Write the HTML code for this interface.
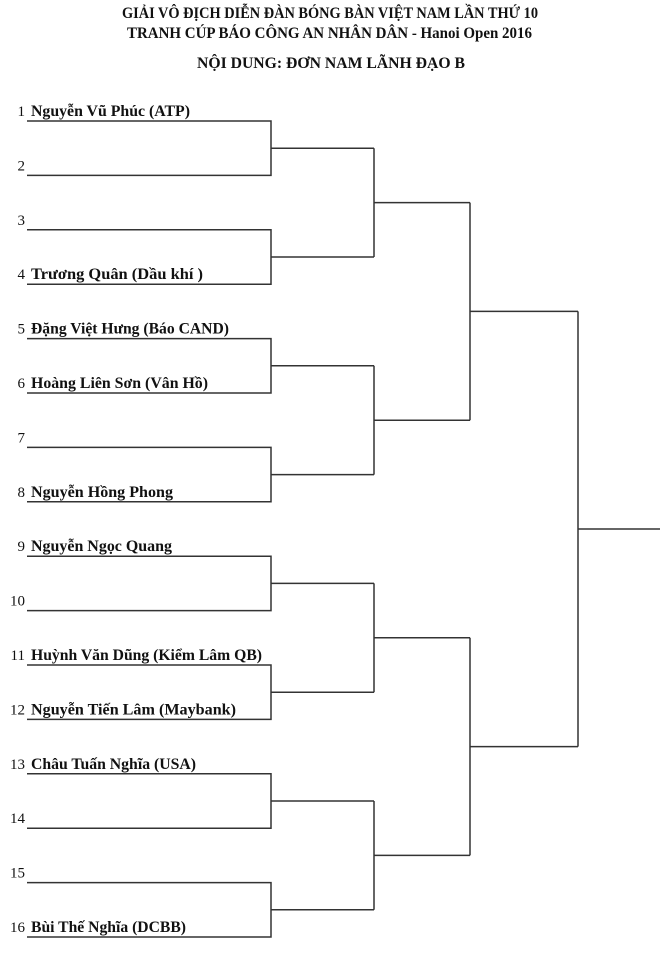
<!DOCTYPE html>
<html><head><meta charset="utf-8"><style>
html,body{margin:0;padding:0;background:#fff;}
svg{display:block;}
text{font-family:"Liberation Serif","DejaVu Serif",serif;fill:#111;}
.n{font-size:15px;}
.b{font-size:16px;font-weight:bold;}
.t{font-size:16px;font-weight:bold;}
</style></head><body>
<svg width="660" height="963" viewBox="0 0 660 963" xmlns="http://www.w3.org/2000/svg">
<text class="t" x="122" y="18" textLength="416" lengthAdjust="spacingAndGlyphs">GIẢI VÔ ĐỊCH DIỄN ĐÀN BÓNG BÀN VIỆT NAM LẦN THỨ 10</text>
<text class="t" x="127" y="38" textLength="405" lengthAdjust="spacingAndGlyphs">TRANH CÚP BÁO CÔNG AN NHÂN DÂN - Hanoi Open 2016</text>
<text class="t" x="197" y="68" textLength="268" lengthAdjust="spacingAndGlyphs">NỘI DUNG: ĐƠN NAM LÃNH ĐẠO B</text>

<g fill="none" stroke="#333" stroke-width="1.5">
<path d="M27 121H271V175.4H27 M271 148.2H374"/>
<path d="M27 229.8H271V284.2H27 M271 257H374"/>
<path d="M27 338.6H271V393H27 M271 365.8H374"/>
<path d="M27 447.4H271V501.8H27 M271 474.6H374"/>
<path d="M27 556.2H271V610.6H27 M271 583.4H374"/>
<path d="M27 665H271V719.4H27 M271 692.2H374"/>
<path d="M27 773.8H271V828.2H27 M271 801H374"/>
<path d="M27 882.6H271V937H27 M271 909.8H374"/>
<path d="M374 148.2V257 M374 202.6H470"/>
<path d="M374 365.8V474.6 M374 420.2H470"/>
<path d="M374 583.4V692.2 M374 637.8H470"/>
<path d="M374 801V909.8 M374 855.4H470"/>
<path d="M470 202.6V420.2 M470 311.4H578"/>
<path d="M470 637.8V855.4 M470 746.6H578"/>
<path d="M578 311.4V746.6 M578 529H660"/>
</g>

<g class="n" text-anchor="end">
<text x="25" y="116">1</text>
<text x="25" y="170.4">2</text>
<text x="25" y="224.8">3</text>
<text x="25" y="279.2">4</text>
<text x="25" y="333.6">5</text>
<text x="25" y="388">6</text>
<text x="25" y="442.4">7</text>
<text x="25" y="496.8">8</text>
<text x="25" y="551.2">9</text>
<text x="25" y="605.6">10</text>
<text x="25" y="660">11</text>
<text x="25" y="714.4">12</text>
<text x="25" y="768.8">13</text>
<text x="25" y="823.2">14</text>
<text x="25" y="877.6">15</text>
<text x="25" y="932">16</text>
</g>

<g class="b">
<text x="31" y="116" textLength="159" lengthAdjust="spacingAndGlyphs">Nguyễn Vũ Phúc (ATP)</text>
<text x="31" y="279.2" textLength="172" lengthAdjust="spacingAndGlyphs">Trương Quân (Dầu khí )</text>
<text x="31" y="333.6" textLength="198" lengthAdjust="spacingAndGlyphs">Đặng Việt Hưng (Báo CAND)</text>
<text x="31" y="388" textLength="177" lengthAdjust="spacingAndGlyphs">Hoàng Liên Sơn (Vân Hồ)</text>
<text x="31" y="496.8" textLength="142" lengthAdjust="spacingAndGlyphs">Nguyễn Hồng Phong</text>
<text x="31" y="551.2" textLength="141" lengthAdjust="spacingAndGlyphs">Nguyễn Ngọc Quang</text>
<text x="31" y="660" textLength="231" lengthAdjust="spacingAndGlyphs">Huỳnh Văn Dũng (Kiểm Lâm QB)</text>
<text x="31" y="714.4" textLength="205" lengthAdjust="spacingAndGlyphs">Nguyễn Tiến Lâm (Maybank)</text>
<text x="31" y="768.8" textLength="165" lengthAdjust="spacingAndGlyphs">Châu Tuấn Nghĩa (USA)</text>
<text x="31" y="932" textLength="155" lengthAdjust="spacingAndGlyphs">Bùi Thế Nghĩa (DCBB)</text>
</g>
</svg>
</body></html>
